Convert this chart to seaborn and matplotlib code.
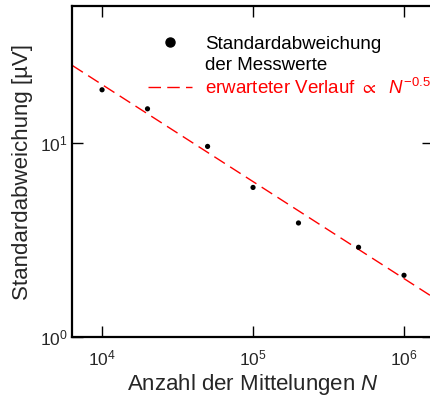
import numpy as np
import pandas as pd
import matplotlib
matplotlib.use("Agg")
import matplotlib.pyplot as plt
from matplotlib.lines import Line2D
import seaborn as sns

# Measured standard deviation vs. number of averages
n_avg = [1e4, 2e4, 5e4, 1e5, 2e5, 5e5, 1e6]
std_uv = [18.8, 15.0, 9.6, 5.9, 3.87, 2.9, 2.08]

# Expected trend: sigma = A * N^-0.5
fit_amp = 2000.0
fit_exp = -0.5

df = pd.DataFrame({"N": n_avg, "std": std_uv})
n_fit = np.geomspace(5e3, 2e6, 200)
df_fit = pd.DataFrame({"N": n_fit, "std": fit_amp * n_fit ** fit_exp})

sns.set_style("ticks")
plt.rcParams["font.family"] = ["Liberation Sans", "DejaVu Sans"]
plt.rcParams["mathtext.fontset"] = "custom"
plt.rcParams["mathtext.rm"] = "Liberation Sans"
plt.rcParams["mathtext.it"] = "Liberation Sans:italic"
plt.rcParams["mathtext.default"] = "regular"

fig = plt.figure(figsize=(4.31, 4.01), dpi=100)
ax = fig.add_axes([72 / 431, 64 / 401, 361 / 431, 331 / 401])

sns.lineplot(data=df_fit, x="N", y="std", ax=ax, color="#ff0000", lw=1.0,
             dashes=False, linestyle=(0, (9, 4.5)), legend=False)
sns.scatterplot(data=df, x="N", y="std", ax=ax, color="black", s=14,
                edgecolor="none", legend=False, zorder=3)

ax.set_xscale("log")
ax.set_yscale("log")
ax.set_xlim(10 ** 3.801, 10 ** 6.192)
ax.set_ylim(1, 10 ** 1.706)
ax.minorticks_off()
ax.set_xticks([1e4, 1e5, 1e6])
ax.set_yticks([1, 10])

for s in ax.spines.values():
    s.set_linewidth(1.6)
    s.set_color("black")
ax.tick_params(which="major", direction="in", length=8, width=1.0,
               top=True, right=True, labelsize=12.5, color="black")
ax.tick_params(axis="x", pad=8)
ax.tick_params(axis="y", pad=3)

ax.set_xlabel("Anzahl der Mittelungen $\\mathit{N}$", fontsize=16, labelpad=3)
ax.set_ylabel("Standardabweichung [µV]", fontsize=16, labelpad=5)

handles = [
    Line2D([], [], marker="o", color="black", linestyle="none", markersize=6.5),
    Line2D([], [], linestyle="none"),
    Line2D([], [], color="#ff0000", lw=1.0, linestyle=(0, (9, 4.5))),
]
labels = [
    "Standardabweichung",
    "der Messwerte",
    "erwarteter Verlauf $\\propto$  $\\mathit{N}^{-0.5}$",
]
leg = ax.legend(handles, labels, loc="upper left", bbox_to_anchor=(0.21, 0.91),
                frameon=False, fontsize=13.5, handlelength=2.35, handletextpad=0.7,
                borderpad=0, borderaxespad=0, labelspacing=0.2)
for t, c in zip(leg.get_texts(), ["black", "black", "#ff0000"]):
    t.set_color(c)

fig.savefig("out.png", dpi=100)
